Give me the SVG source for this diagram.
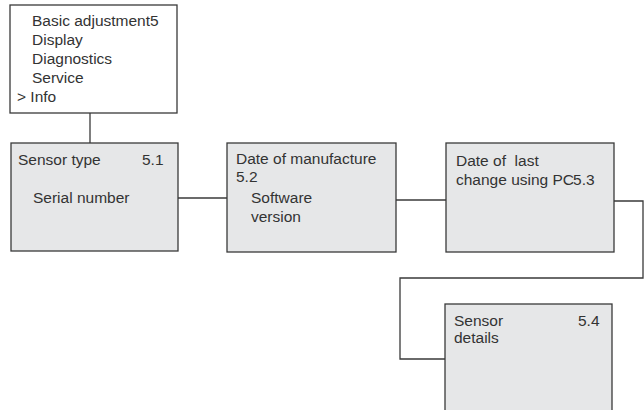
<svg xmlns="http://www.w3.org/2000/svg" width="644" height="410" viewBox="0 0 644 410">
<style>
.box{fill:#e6e7e8;stroke:#3a3a3a;stroke-width:1.3}
.menu{fill:#ffffff;stroke:#3a3a3a;stroke-width:1.3}
.t{font-family:"Liberation Sans",Arial,sans-serif;font-size:15.5px;fill:#333333}
.c{fill:none;stroke:#3a3a3a;stroke-width:1.3}
</style>
<rect width="644" height="410" fill="#ffffff"/>
<g id="connectors">
<path class="c" d="M90,113 V143"/>
<path class="c" d="M178,198 H227"/>
<path class="c" d="M396,200 H446"/>
<path class="c" d="M614,201 H643 V278 H400 V359 H445"/>
</g>
<g id="menu">
<rect class="menu" x="10" y="5" width="167" height="108"/>
<text class="t" x="32" y="26">Basic adjustment5</text>
<text class="t" x="32" y="45">Display</text>
<text class="t" x="32" y="64">Diagnostics</text>
<text class="t" x="32" y="83">Service</text>
<text class="t" x="17" y="102">&gt; Info</text>
</g>
<g id="node51">
<rect class="box" x="11" y="143" width="167" height="108"/>
<text class="t" x="18" y="165">Sensor type</text>
<text class="t" x="142" y="165">5.1</text>
<text class="t" x="33" y="203">Serial number</text>
</g>
<g id="node52">
<rect class="box" x="227" y="143" width="169" height="109"/>
<text class="t" x="236" y="164">Date of manufacture</text>
<text class="t" x="236" y="182">5.2</text>
<text class="t" x="251" y="203">Software</text>
<text class="t" x="251" y="222">version</text>
</g>
<g id="node53">
<rect class="box" x="446" y="143" width="168" height="109"/>
<text class="t" x="456" y="166">Date of&#160; last</text>
<text class="t" x="456" y="185">change using PC<tspan dx="-1">5.3</tspan></text>
</g>
<g id="node54">
<rect class="box" x="445" y="304" width="167" height="120"/>
<text class="t" x="454" y="326">Sensor</text>
<text class="t" x="454" y="343">details</text>
<text class="t" x="578" y="326">5.4</text>
</g>
</svg>
